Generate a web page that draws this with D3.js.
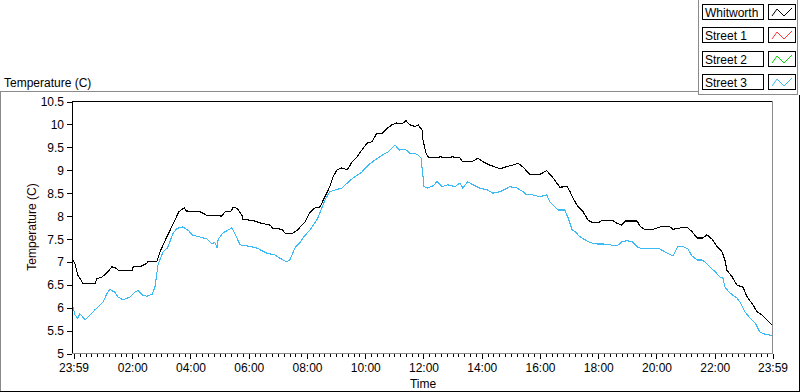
<!DOCTYPE html>
<html>
<head>
<meta charset="utf-8">
<script src="https://cdn.jsdelivr.net/npm/d3@7"></script>
<style>
  body { margin: 0; background: #fff; }
  svg { display: block; font-family: 'Liberation Sans', Arial, sans-serif; }
</style>
</head>
<body>
<div id="chart"></div>
<script>
// legend entries (only Whitworth and Street 3 carry data in this capture)
const seriesNames = ['Whitworth', 'Street 1', 'Street 2', 'Street 3'];
const seriesColors = ['#000000', '#ff3535', '#00dd00', '#3cbaf5'];

const whitworthTime = ['23:59','00:03','00:09','00:20','00:44','00:48','00:59','01:09','01:19','01:26','01:32','02:01','02:03','02:21','02:31','02:34','02:52','02:58','03:09','03:19','03:29','03:37','03:48','03:52','04:21','04:27','04:35','05:06','05:12','05:25','05:29','05:37','05:47','05:49','06:10','06:24','06:45','06:51','07:10','07:16','07:30','07:41','07:47','07:57','08:07','08:18','08:28','08:38','08:48','08:55','09:03','09:13','09:24','09:34','09:44','09:54','10:05','10:15','10:25','10:36','10:46','10:56','11:06','11:17','11:25','11:33','11:44','11:50','11:58','12:00','12:06','12:10','12:21','12:35','12:50','13:02','13:16','13:22','13:43','13:53','14:04','14:18','14:39','14:53','15:05','15:16','15:26','15:40','16:01','16:15','16:28','16:42','16:57','17:03','17:09','17:19','17:30','17:40','17:50','18:01','18:09','18:29','18:40','18:50','18:56','19:21','19:27','19:37','19:54','20:08','20:19','20:29','20:35','20:56','21:04','21:14','21:25','21:37','21:45','21:55','22:06','22:16','22:22','22:26','22:37','22:47','22:59','23:08','23:20','23:28','23:38','23:49','23:55','23:59'];
const whitworthTemp = [7.03,6.95,6.7,6.51,6.51,6.62,6.66,6.75,6.88,6.86,6.81,6.81,6.88,6.9,6.96,7.0,7.0,7.2,7.46,7.68,7.9,8.08,8.17,8.1,8.08,8.05,8.0,7.99,8.08,8.1,8.18,8.16,8.01,7.92,7.89,7.84,7.79,7.72,7.7,7.61,7.6,7.68,7.75,7.86,8.07,8.17,8.19,8.41,8.63,8.85,9.0,9.04,9.0,9.17,9.28,9.43,9.58,9.61,9.8,9.8,9.9,9.98,10.02,10.0,10.07,9.98,9.94,9.98,9.87,9.65,9.37,9.28,9.26,9.28,9.27,9.28,9.26,9.17,9.19,9.25,9.17,9.1,9.02,9.07,9.1,9.14,9.06,8.9,8.9,8.98,8.82,8.62,8.63,8.52,8.38,8.2,8.08,7.9,7.84,7.84,7.9,7.9,7.83,7.79,7.88,7.88,7.77,7.69,7.7,7.75,7.77,7.75,7.7,7.74,7.75,7.65,7.51,7.51,7.58,7.49,7.32,7.21,7.03,6.81,6.66,6.48,6.44,6.22,6.05,5.9,5.83,5.72,5.65,5.61];

const street1Time = [];
const street1Temp = [];
const street2Time = [];
const street2Temp = [];

const street3Time = ['23:59','00:03','00:09','00:13','00:18','00:24','00:34','00:44','00:55','01:01','01:09','01:15','01:26','01:32','01:42','01:56','02:07','02:13','02:21','02:31','02:42','02:48','02:54','03:04','03:14','03:25','03:33','03:45','03:56','04:06','04:21','04:35','04:45','04:51','04:56','04:58','05:08','05:26','05:32','05:43','05:57','06:18','06:38','06:55','07:05','07:19','07:26','07:36','07:47','07:57','08:07','08:23','08:38','08:48','08:59','09:13','09:24','09:36','09:54','10:07','10:21','10:36','10:48','11:02','11:12','11:23','11:33','11:48','11:56','12:00','12:02','12:10','12:21','12:29','12:39','12:51','13:06','13:16','13:22','13:32','13:43','13:57','14:12','14:24','14:39','14:59','15:14','15:26','15:34','15:46','16:01','16:15','16:21','16:28','16:38','16:52','16:59','17:07','17:13','17:23','17:34','17:44','17:58','18:11','18:25','18:40','18:50','19:00','19:11','19:21','19:31','19:54','20:08','20:23','20:35','20:45','20:56','21:06','21:14','21:25','21:35','21:41','21:51','22:02','22:12','22:18','22:22','22:32','22:47','22:53','23:03','23:14','23:24','23:34','23:44','23:55','23:59'];
const street3Temp = [6.0,5.83,5.76,5.85,5.8,5.72,5.83,5.94,6.05,6.11,6.3,6.39,6.32,6.22,6.16,6.22,6.33,6.37,6.27,6.24,6.28,6.45,6.92,7.2,7.3,7.61,7.72,7.75,7.68,7.57,7.53,7.49,7.38,7.42,7.29,7.48,7.62,7.73,7.62,7.36,7.34,7.29,7.18,7.14,7.07,6.99,7.04,7.29,7.42,7.57,7.68,7.94,8.34,8.52,8.56,8.6,8.71,8.82,8.95,9.1,9.21,9.32,9.39,9.54,9.43,9.45,9.36,9.34,9.25,8.85,8.63,8.6,8.65,8.74,8.63,8.67,8.63,8.71,8.6,8.74,8.67,8.6,8.56,8.49,8.52,8.63,8.6,8.52,8.45,8.45,8.41,8.45,8.3,8.23,8.12,8.12,7.95,7.69,7.65,7.54,7.47,7.41,7.38,7.38,7.36,7.34,7.43,7.45,7.43,7.32,7.27,7.29,7.27,7.18,7.12,7.32,7.32,7.27,7.12,7.03,7.03,6.99,6.88,6.77,6.66,6.63,6.44,6.31,6.2,6.11,5.9,5.76,5.66,5.46,5.41,5.39,5.39];

const yTicks = [5, 5.5, 6, 6.5, 7, 7.5, 8, 8.5, 9, 9.5, 10, 10.5];
const xTickLabels = ['23:59','02:00','04:00','06:00','08:00','10:00','12:00','14:00','16:00','18:00','20:00','22:00','23:59'];

// "HH:MM" -> minutes since midnight; a leading 23:59 belongs to the day before
const toMinutes = (s, i) => {
  const [h, m] = s.split(':').map(Number);
  let v = h * 60 + m;
  if (i === 0 && v > 720) v -= 1440;
  return v;
};

const width = 800, height = 392;
const svg = d3.select('#chart').append('svg').attr('width', width).attr('height', height);

const x = d3.scaleLinear().domain([-1, 1439]).range([73, 772]);
const y = d3.scaleLinear().domain([5, 10.5]).range([353, 101]);

// outer frame
const frame = svg.append('g').attr('shape-rendering', 'crispEdges').attr('fill', 'none');
frame.append('path').attr('stroke', '#8a8a8a').attr('d', 'M0.5,391 V91.5 H698.5 V0');
frame.append('path').attr('stroke', '#8a8a8a').attr('d', 'M698.5,91.5 V94.5 H797.5 V0');
frame.append('path').attr('stroke', '#000').attr('d', 'M0,391.5 H799.5 V95');

// title
svg.append('text').attr('x', 4).attr('y', 87).attr('font-size', 12).attr('fill', '#000').text('Temperature (C)');

// plot border
const border = svg.append('g').attr('shape-rendering', 'crispEdges').attr('fill', 'none');
border.append('path').attr('stroke', '#000').attr('d', 'M72.5,353 V101.5 H772');
border.append('path').attr('stroke', '#8a8a8a').attr('d', 'M72,353.5 H772.5 V101');

// y axis
const yAxis = d3.axisLeft(y).tickValues(yTicks).tickSize(5).tickPadding(3).tickFormat(d3.format(''));
const yg = svg.append('g').attr('transform', 'translate(72,0.5)').attr('shape-rendering', 'crispEdges').call(yAxis);
yg.select('.domain').remove();
yg.selectAll('text').attr('font-size', 12).attr('font-family', "'Liberation Sans', Arial, sans-serif").attr('fill', '#000').attr('dy', '0.34em');

// x axis: minor ticks every 12 minutes, labelled major ticks every 2 hours
const xMinor = d3.axisBottom(x).tickValues(d3.range(0, 1440, 12)).tickSize(3).tickFormat('');
const xmg = svg.append('g').attr('transform', 'translate(0.5,354)').attr('shape-rendering', 'crispEdges').call(xMinor);
xmg.select('.domain').remove();

const xMajorVals = xTickLabels.map(toMinutes);
const xAxis = d3.axisBottom(x).tickValues(xMajorVals).tickSize(5).tickPadding(4)
  .tickFormat((d, i) => xTickLabels[i]);
const xg = svg.append('g').attr('transform', 'translate(0.5,354)').attr('shape-rendering', 'crispEdges').call(xAxis);
xg.select('.domain').remove();
xg.selectAll('text').attr('font-size', 12).attr('font-family', "'Liberation Sans', Arial, sans-serif").attr('fill', '#000');

// axis names
svg.append('text').attr('x', 423).attr('y', 388).attr('text-anchor', 'middle').attr('font-size', 12).text('Time');
svg.append('text').attr('transform', 'translate(36,227) rotate(-90)').attr('text-anchor', 'middle')
  .attr('font-size', 12).attr('fill', '#1a0000').text('Temperature (C)');

// series
const series = [
  { name: seriesNames[0], color: seriesColors[0], time: whitworthTime, temp: whitworthTemp },
  { name: seriesNames[1], color: seriesColors[1], time: street1Time, temp: street1Temp },
  { name: seriesNames[2], color: seriesColors[2], time: street2Time, temp: street2Temp },
  { name: seriesNames[3], color: seriesColors[3], time: street3Time, temp: street3Temp }
];

const line = d3.line().x(d => x(d[0])).y(d => y(d[1]));
const plot = svg.append('g');
series.forEach(s => {
  if (!s.time.length) return;
  const pts = s.time.map((t, i) => [toMinutes(t, i), s.temp[i]]);
  plot.append('path').datum(pts)
    .attr('fill', 'none')
    .attr('stroke', s.color)
    .attr('stroke-width', 1.1)
    .attr('shape-rendering', 'crispEdges')
    .attr('d', line);
});

// legend
const legend = svg.append('g').attr('shape-rendering', 'crispEdges');
series.forEach((s, i) => {
  const y0 = 4 + i * 23.3;
  const g = legend.append('g').attr('transform', `translate(0,${Math.round(y0)})`);
  g.append('rect').attr('x', 702.5).attr('y', 0.5).attr('width', 61).attr('height', 15)
    .attr('fill', '#fff').attr('stroke', '#000');
  g.append('text').attr('x', 705).attr('y', 12.5).attr('font-size', 12).attr('fill', '#000').text(s.name);
  g.append('rect').attr('x', 768.5).attr('y', 0.5).attr('width', 27).attr('height', 15)
    .attr('fill', '#fff').attr('stroke', '#000');
  g.append('path').attr('fill', 'none').attr('stroke', s.color).attr('shape-rendering', 'auto')
    .attr('d', 'M772,12 L777,5 L784,12 L792,4');
});
</script>
</body>
</html>
